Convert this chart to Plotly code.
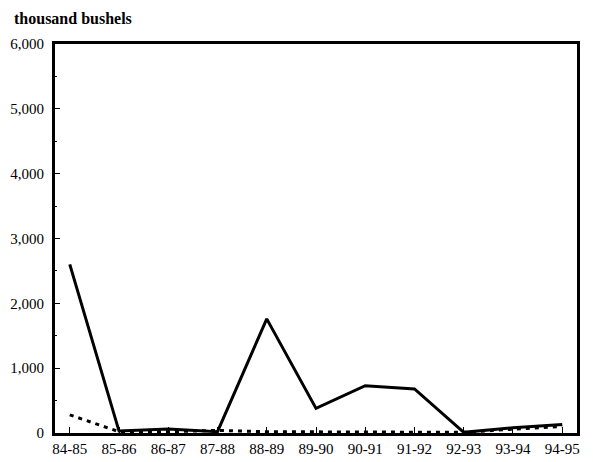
import plotly.graph_objects as go

# crop years
seasons = ["84-85", "85-86", "86-87", "87-88", "88-89", "89-90",
           "90-91", "91-92", "92-93", "93-94", "94-95"]

# thousand bushels
solid_vals = [2600, 30, 60, 20, 1760, 380, 730, 680, 10, 80, 130]
dashed_vals = [280, 20, 20, 40, 20, 20, 20, 20, 10, 60, 100]

y_ticks = [0, 1000, 2000, 3000, 4000, 5000, 6000]
y_labels = ["0", "1,000", "2,000", "3,000", "4,000", "5,000", "6,000"]

x = list(range(len(seasons)))

fig = go.Figure()
fig.add_trace(go.Scatter(
    x=x, y=dashed_vals, mode="lines",
    line=dict(color="black", width=3, dash="4px,5px"),
))
fig.add_trace(go.Scatter(
    x=x, y=solid_vals, mode="lines",
    line=dict(color="black", width=3),
))

font = dict(family="Liberation Serif, Times New Roman, serif", size=15, color="black")

# page body has an 8px margin, so the figure is a bit smaller than the window
fig.update_layout(
    width=585, height=454,
    margin=dict(l=47, r=16, t=36, b=29),
    paper_bgcolor="white", plot_bgcolor="white",
    showlegend=False,
    font=font,
    annotations=[dict(
        text="<b>thousand bushels</b>", x=0, y=1, xref="paper", yref="paper",
        xshift=-43, yshift=36, xanchor="left", yanchor="top", showarrow=False,
        font=dict(family="Liberation Serif, serif", size=16, color="black"),
    )],
)

fig.update_xaxes(
    range=[-0.3, 10.3], automargin=False,
    tickvals=x, ticktext=seasons,
    showgrid=False, zeroline=False,
    showline=True, linecolor="black", linewidth=3, mirror=True,
    ticks="inside", ticklen=6, tickcolor="black", tickwidth=1,
)
fig.update_yaxes(
    range=[0, 6000], automargin=False,
    tickvals=y_ticks, ticktext=y_labels,
    showgrid=False, zeroline=False,
    showline=True, linecolor="black", linewidth=3, mirror=True,
    ticks="inside", ticklen=5, tickcolor="black", tickwidth=1,
    ticklabelstandoff=5,
    minor=dict(dtick=500, ticks="inside", ticklen=2, tickcolor="black"),
)

fig.write_html("out.html")
